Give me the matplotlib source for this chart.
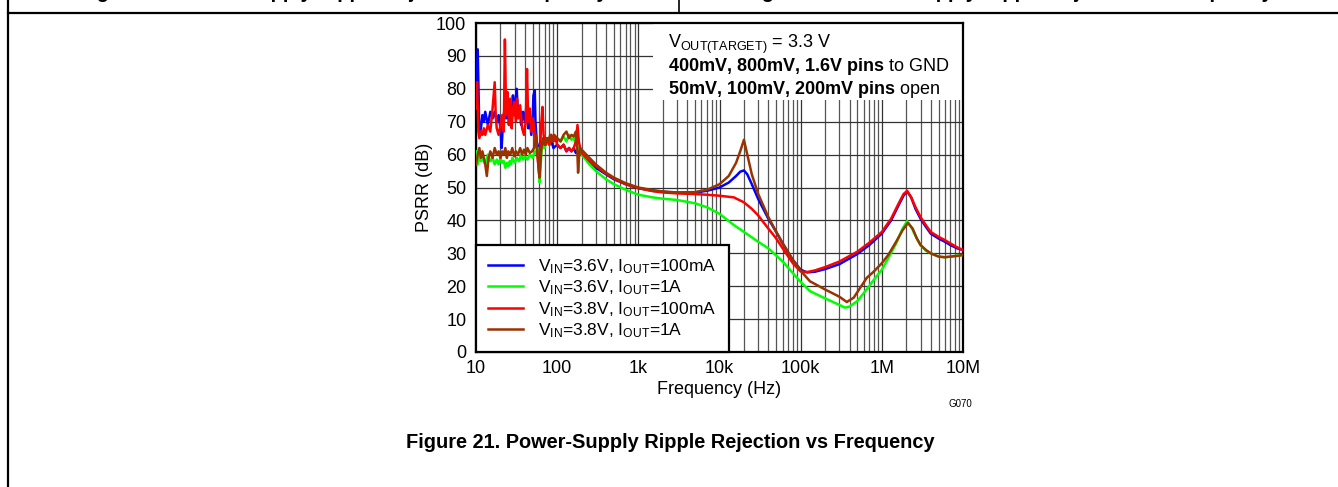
import matplotlib
matplotlib.use("Agg")
import matplotlib.pyplot as plt
from matplotlib.lines import Line2D
from matplotlib.patches import Rectangle
from matplotlib.ticker import FixedLocator, LogLocator, NullFormatter

plt.rcParams['font.family'] = ['Liberation Sans', 'DejaVu Sans']
plt.rcParams['mathtext.fontset'] = 'custom'
plt.rcParams['mathtext.rm'] = 'Liberation Sans'
plt.rcParams['mathtext.it'] = 'Liberation Sans:italic'
plt.rcParams['mathtext.bf'] = 'Liberation Sans:bold'

# PSRR (dB) vs frequency (Hz)
blue = [(10, 75), (10.5, 92), (11, 66), (11.5, 68), (12, 72), (12.5, 70), (13, 73), (14, 69),
        (15, 73), (16, 71), (17, 73), (18, 70), (19, 72), (20, 68), (20.7, 62), (21.5, 70),
        (22.5, 74), (23.5, 71), (24.5, 77), (25.5, 69), (26.5, 75), (27.5, 71), (28.5, 78),
        (29.5, 72), (30.5, 76), (31.7, 80), (33, 72), (34.5, 74), (36, 69), (38, 73), (40, 70),
        (42, 75), (44, 68), (46, 71), (48, 66), (50, 72), (51, 78), (53, 79.5), (54, 70),
        (56, 64), (58, 62), (60, 60), (62, 64), (65, 62), (68, 64), (72, 63), (76, 65), (80, 63),
        (85, 64), (90, 62), (100, 63), (110, 62), (120, 63), (130, 61), (140, 62), (150, 61),
        (160, 62), (170, 60.5), (180, 61), (190, 60), (200, 60),
        (250, 58), (300, 56), (400, 54), (500, 52.5), (700, 51), (1e3, 49.8), (1.5e3, 49),
        (2e3, 48.7), (3e3, 48.4), (5e3, 48.5), (7e3, 49), (1e4, 50), (1.3e4, 51.5), (1.6e4, 53.5),
        (1.8e4, 54.8), (2e4, 55.2), (2.2e4, 54), (2.5e4, 51), (3e4, 46.5), (4e4, 40.5),
        (5e4, 36.5), (6e4, 33), (8e4, 28), (1e5, 25), (1.2e5, 24.2), (1.5e5, 24.4), (2e5, 25.2),
        (3e5, 26.7), (5e5, 29.8), (7e5, 32.5), (1e6, 36), (1.3e6, 40), (1.6e6, 44.5),
        (1.85e6, 47.5), (2.05e6, 48.8), (2.3e6, 47), (2.6e6, 43.5), (3e6, 40.5), (3.5e6, 38),
        (4e6, 36), (5e6, 34.5), (6e6, 33.5), (7e6, 32.5), (8.5e6, 31.5), (1e7, 31)]

green = [(10, 61), (10.5, 57), (11, 60), (11.5, 58), (12, 59), (13, 57), (14, 60), (15, 58),
         (16, 59), (17, 57), (18, 58.5), (19, 57), (20, 59), (21, 57.5), (22, 58), (23, 56),
         (24, 57.5), (25, 56.5), (26, 58), (27, 57), (28, 59), (30, 57.5), (32, 59), (34, 58),
         (36, 60), (38, 58.5), (40, 59.5), (43, 58.5), (46, 60), (50, 59), (53, 61), (56, 60),
         (58, 62), (59.5, 57), (61, 51.5), (62.5, 56), (64, 61), (67, 63), (70, 62), (75, 64),
         (80, 63), (85, 65), (90, 64), (100, 65), (110, 64), (120, 65.5), (130, 64), (140, 66),
         (150, 64.5), (160, 65), (170, 63), (180, 62), (190, 61), (200, 60),
         (250, 57), (300, 55), (400, 52.5), (500, 51), (700, 49.3), (1e3, 47.8), (1.5e3, 47),
         (2e3, 46.6), (3e3, 46.2), (5e3, 45.2), (7e3, 44), (1e4, 42), (1.5e4, 38.6), (2e4, 36.5),
         (3e4, 33.5), (4e4, 31.5), (6e4, 27.5), (8e4, 24), (1e5, 21.3), (1.3e5, 18.5),
         (2e5, 16.3), (3e5, 14.3), (3.5e5, 13.5), (4e5, 13.8), (5e5, 15.5), (6.5e5, 19),
         (8e5, 22), (1e6, 25), (1.2e6, 28.5), (1.5e6, 33), (1.8e6, 37.5), (2.05e6, 39.8),
         (2.3e6, 38), (2.7e6, 34.5), (3e6, 32.5), (3.5e6, 30.8), (4e6, 30), (5e6, 29),
         (6e6, 28.8), (7e6, 29), (8.5e6, 29.3), (1e7, 29.5)]

red = [(10, 74), (10.3, 82), (10.7, 67), (11, 65), (11.5, 67), (12, 66), (12.5, 68), (13, 66),
       (14, 69), (15, 67), (16, 74), (17, 82), (17.5, 72), (18, 68), (19, 66), (20, 69),
       (21, 72), (22, 67), (22.7, 95), (23.5, 72), (24.5, 79), (25.5, 69), (26.5, 77),
       (27.5, 68), (28.5, 74), (29.5, 76), (31, 70), (32, 77), (33, 71), (35, 75), (37, 68),
       (39, 66), (41, 70), (42.5, 86), (44, 70), (46, 74), (48, 67), (50, 71), (52, 68),
       (54, 65), (56, 62), (58, 58), (60, 54), (61.5, 58), (63, 68), (66, 74.5), (68, 66),
       (72, 63), (76, 65), (80, 63), (85, 66), (90, 64), (95, 65), (100, 63), (110, 62),
       (120, 63), (130, 61), (140, 62), (150, 61), (160, 62), (170, 64), (178, 69), (185, 64),
       (192, 62), (200, 60.5),
       (250, 58), (300, 56.5), (400, 54.2), (500, 52.7), (700, 51), (1e3, 49.8), (1.5e3, 48.9),
       (2e3, 48.5), (3e3, 48.2), (5e3, 48), (7e3, 47.8), (1e4, 47.5), (1.5e4, 47), (2e4, 45.5),
       (2.5e4, 43.5), (3e4, 41.5), (4e4, 37.5), (5e4, 34.5), (6e4, 31.5), (8e4, 27),
       (1e5, 24.5), (1.2e5, 24.3), (1.5e5, 24.8), (2e5, 25.8), (3e5, 27.5), (5e5, 30.5),
       (7e5, 33.2), (1e6, 36.5), (1.3e6, 40.5), (1.6e6, 45), (1.85e6, 48), (2.05e6, 49),
       (2.3e6, 47), (2.6e6, 44), (3e6, 41), (3.5e6, 38.5), (4e6, 36.5), (5e6, 35), (6e6, 34),
       (7e6, 33), (8.5e6, 31.8), (1e7, 31)]

brown = [(10, 57), (10.5, 60), (11, 62), (11.5, 59), (12, 61), (12.5, 59), (13, 57),
         (13.6, 53.5), (14.3, 59), (15, 61), (16, 59), (17, 62), (18, 60), (19, 61), (20, 59),
         (21, 61), (22, 60), (23, 62), (24, 59), (25, 61), (26.5, 60), (28, 62), (29.5, 59.5),
         (31, 61), (33, 60), (35, 62), (37, 60), (39, 61.5), (41, 60), (43, 62), (46, 60.5),
         (49, 61), (52, 62), (55, 66), (57, 61), (59, 56), (60.5, 53), (62, 57), (64, 62),
         (67, 65), (70, 63), (74, 65), (78, 64), (82, 66), (87, 64), (92, 66), (100, 65),
         (110, 64), (120, 66), (130, 67), (140, 65), (150, 66), (160, 65.5), (170, 67),
         (176, 63), (181, 54.5), (187, 60), (193, 62), (200, 61.5),
         (250, 59), (300, 57), (400, 54.5), (500, 53), (700, 51.3), (1e3, 50), (1.5e3, 49.2),
         (2e3, 48.8), (3e3, 48.5), (5e3, 48.6), (7e3, 49.3), (1e4, 51), (1.3e4, 53.5),
         (1.6e4, 57.5), (1.8e4, 61), (2e4, 64.5), (2.2e4, 60), (2.5e4, 54), (3e4, 48),
         (4e4, 41), (5e4, 36.5), (6e4, 33), (8e4, 28), (1e5, 24.7), (1.3e5, 21.5), (2e5, 19),
         (3e5, 16.8), (3.7e5, 15.2), (4.5e5, 16.5), (6.5e5, 22.5), (8e5, 24.5), (1e6, 27),
         (1.2e6, 29.5), (1.5e6, 33.5), (1.8e6, 37), (2.1e6, 39.2), (2.4e6, 37.5), (2.7e6, 34.5),
         (3e6, 32.5), (3.5e6, 31), (4e6, 30), (5e6, 29), (6e6, 28.8), (7e6, 29), (8.5e6, 29.2),
         (1e7, 29.5)]

labels = [r'V$_{\mathrm{IN}}$=3.6V, I$_{\mathrm{OUT}}$=100mA',
          r'V$_{\mathrm{IN}}$=3.6V, I$_{\mathrm{OUT}}$=1A',
          r'V$_{\mathrm{IN}}$=3.8V, I$_{\mathrm{OUT}}$=100mA',
          r'V$_{\mathrm{IN}}$=3.8V, I$_{\mathrm{OUT}}$=1A']
colors = ['#0000ff', '#00ff00', '#ff0000', '#993300']
x_ticks = [10, 100, 1e3, 1e4, 1e5, 1e6, 1e7]
x_ticklabels = ['10', '100', '1k', '10k', '100k', '1M', '10M']

W, H = 1338, 487
fig = plt.figure(figsize=(W / 100, H / 100), dpi=100)
ax = fig.add_axes([476 / W, 1 - 352 / H, (963 - 476) / W, (352 - 23) / H])

handles = []
for series, c, lab in zip([blue, green, red, brown], colors, labels):
    f, v = zip(*series)
    h, = ax.plot(f, v, color=c, lw=1.8, label=lab, zorder=3)
    handles.append(h)

ax.set_xscale('log')
ax.set_xlim(10, 1e7)
ax.set_ylim(0, 100)
ax.xaxis.set_major_locator(FixedLocator(x_ticks))
ax.set_xticklabels(x_ticklabels)
ax.xaxis.set_minor_locator(LogLocator(base=10, subs=range(2, 10), numticks=20))
ax.xaxis.set_minor_formatter(NullFormatter())
ax.set_yticks(range(0, 101, 10))
ax.tick_params(which='both', length=0, labelsize=13)
ax.tick_params(axis='y', pad=7)
ax.tick_params(axis='x', pad=6)
ax.set_axisbelow(True)
ax.grid(which='major', color='#333333', lw=0.9)
ax.grid(which='minor', axis='x', color='#555555', lw=0.9)
for s in ax.spines.values():
    s.set_linewidth(1.6)

ax.set_xlabel('Frequency (Hz)', fontsize=13)
ax.xaxis.set_label_coords(0.5, -0.088)
ax.set_ylabel('PSRR (dB)', fontsize=13)
ax.yaxis.set_label_coords(-0.088, 0.5)

# white area behind the conditions text
ax.add_patch(Rectangle((0.363, 0.765), 0.637, 0.235, transform=ax.transAxes,
                       facecolor='white', edgecolor='none', zorder=2))
ax.text(0.394, 0.9225, r'V$_{\mathrm{OUT(TARGET)}}$ = 3.3 V', transform=ax.transAxes,
        fontsize=13, va='baseline', zorder=4)
ax.text(0.394, 0.8526, r'$\mathbf{400mV{,}\ 800mV{,}\ 1.6V\ pins}$ to GND',
        transform=ax.transAxes, fontsize=13, va='baseline', zorder=4)
ax.text(0.394, 0.7857, r'$\mathbf{50mV{,}\ 100mV{,}\ 200mV\ pins}$ open',
        transform=ax.transAxes, fontsize=13, va='baseline', zorder=4)

leg = ax.legend(handles=handles, loc='lower left', bbox_to_anchor=(0, 0), borderaxespad=0,
                fancybox=False, edgecolor='black', framealpha=1, fontsize=12.5,
                handlelength=2.0, handletextpad=0.9, labelspacing=0.15, borderpad=0.7)
leg.get_frame().set_linewidth(1.6)
leg.set_zorder(5)

# page furniture: table borders and the headings of the row above (cut off)
fig.add_artist(Line2D([8 / W, 8 / W], [0, 1], color='black', lw=1.6))
fig.add_artist(Line2D([8 / W, 1], [1 - 13 / H, 1 - 13 / H], color='black', lw=1.6))
fig.add_artist(Line2D([679 / W, 679 / W], [1 - 13 / H, 1], color='black', lw=1.2))
fig.text(343 / W, 1 + 1.5 / H, 'Figure 19. Power-Supply Ripple Rejection vs Frequency',
         fontsize=14.4, weight='bold', ha='center', va='baseline')
fig.text(1008 / W, 1 + 1.5 / H, 'Figure 20. Power-Supply Ripple Rejection vs Frequency',
         fontsize=14.4, weight='bold', ha='center', va='baseline')

fig.text(960 / W, 1 - 404 / H, 'G070', fontsize=7, ha='center', va='center')
fig.text(670 / W, 1 - 442 / H, 'Figure 21. Power-Supply Ripple Rejection vs Frequency',
         fontsize=14.4, weight='bold', ha='center', va='center')

fig.savefig('out.png', dpi=100)
